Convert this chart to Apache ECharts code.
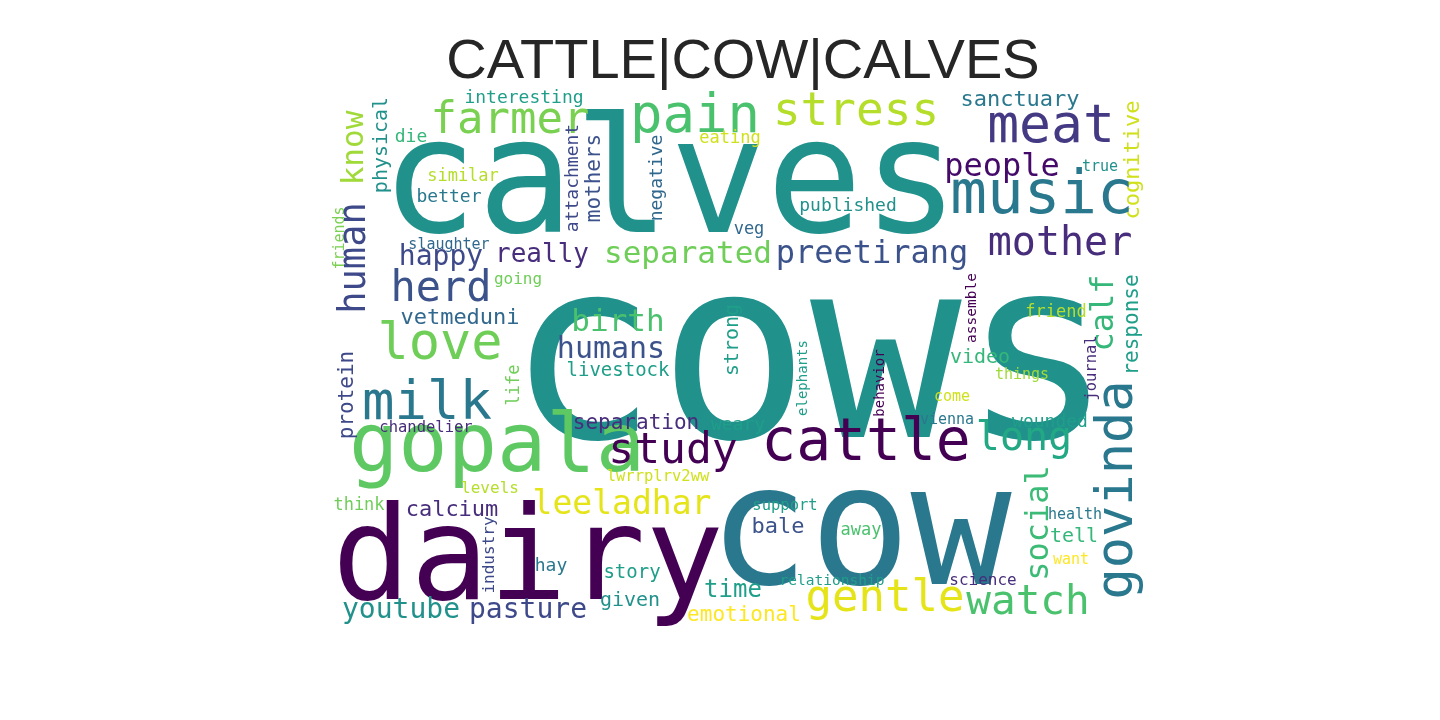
<!DOCTYPE html>
<html>
<head>
<meta charset="utf-8">
<script src="https://cdn.jsdelivr.net/npm/echarts@6/dist/echarts.min.js"></script>
<style>html,body{margin:0;padding:0;background:#fff}#chart{width:1440px;height:720px}</style>
</head>
<body>
<div id="chart"></div>
<script>
// word cloud entries: word, centre x, centre y, font size, rotation, colour
var words = ['calves','cows','dairy','cow','gopala','cattle','study','leeladhar','calcium','think','levels','lwrrplrv2ww',
  'youtube','pasture','hay','story','given','emotional','time','industry','separation','weary','chandelier','protein',
  'life','milk','livestock','humans','strong','birth','vetmeduni','love','herd','happy','really','slaughter','going',
  'friends','human','know','physical','interesting','farmer','die','similar','better','attachment','mothers','negative',
  'pain','eating','veg','stress','published','sanctuary','meat','people','true','cognitive','music','mother','preetirang',
  'separated','calf','response','assemble','friend','journal','govinda','video','things','come','elephants','behavior',
  'vienna','wounded','long','social','tell','health','want','support','bale','away','relationship','science','gentle','watch'];
var wordX = [670,810,528,860,497,866,673,622,452,359,490,658,
  401,528,551,632,630,744,733,490,636,738,426,348,
  515,427,618,611,733,618,460,440,441,441,542,449,518,
  340,355,355,382,524,510,411,463,449,573,595,657,
  695,730,749,856,848,1020,1051,1002,1100,1133,1042,1060,872,
  688,1105,1133,972,1056,1092,1118,980,1022,952,803,880,
  947,1050,1024,1040,1074,1075,1071,785,778,861,832,983,885,1028];
var wordY = [190,372,565,540,450,445,452,505,510,506,489,477,
  611,611,566,573,601,616,591,555,424,425,428,395,
  385,405,371,350,340,323,318,345,290,258,255,245,280,
  238,258,148,145,98,122,137,177,197,178,178,178,
  118,139,230,113,206,100,128,168,167,160,197,245,255,
  255,313,325,308,313,368,490,358,375,397,378,383,
  420,422,440,523,537,515,560,506,527,531,581,581,600,603];
var wordSize = [160,252,130,168,82,58,43,33,22,17,16,15.5,
  28,28,18,19,20,21,24,16,21,18,15.5,21,
  17,54,19,30,20,31,22,52,42,28,26,15,16,
  15,37,31,20,18,44,18,17,18,18,21,18,
  54,17,17,46,18,22,53,32,15,22,61,40,32,
  31,32,21,14.5,17,15.5,52,20,15,15,14,14,
  15,18,40,32,20,15,15,15.5,22,17,14.5,16,44,41];
var wordRot = [0,0,0,0,0,0,0,0,0,0,0,0,
  0,0,0,0,0,0,0,90,0,0,0,90,
  90,0,0,0,90,0,0,0,0,0,0,0,0,
  90,90,90,90,0,0,0,0,0,90,90,90,
  0,0,0,0,0,0,0,0,0,90,0,0,0,
  0,90,90,90,0,90,90,0,0,0,90,90,
  0,0,0,90,0,0,0,0,0,0,0,0,0,0];
var wordColor = ['#21918c','#21918c','#440154','#2a788e','#5ec962','#440154','#440154','#e5e419','#472d7b','#6ece58','#b5de2b','#d0e11c',
  '#21918c','#3e4989','#2a788e','#1f9e89','#21918c','#fde725','#1f9e89','#3e4989','#472d7b','#1f9e89','#472d7b','#3e4989',
  '#6ece58','#2a788e','#1f9e89','#3b528b','#1f9e89','#4ac16d','#31688e','#6ece58','#3b528b','#3e4989','#472d7b','#31688e','#6ece58',
  '#7ad151','#3e4989','#a0da39','#21918c','#1f9e89','#7ad151','#35b779','#b5de2b','#2a788e','#3e4989','#3b528b','#31688e',
  '#4ac16d','#d0e11c','#31688e','#b5de2b','#21918c','#2a788e','#443983','#450a69','#21918c','#d0e11c','#2a788e','#472d7b','#3b528b',
  '#6ece58','#35b779','#1f9e89','#440154','#b5de2b','#472d7b','#2a788e','#35b779','#a0da39','#d0e11c','#1f9e89','#440154',
  '#2a788e','#1f9e89','#22a884','#3bbb75','#35b779','#2a788e','#fde725','#1f9e89','#3b528b','#4ac16d','#1f9e89','#472d7b','#e5e419','#4ac16d'];

var chart = echarts.init(document.getElementById('chart'));
var points = [];
for (var i = 0; i < words.length; i++) {
  points.push({
    value: [wordX[i], wordY[i]],
    label: {
      show: true,
      formatter: words[i],
      fontSize: wordSize[i],
      rotate: wordRot[i],
      color: wordColor[i],
      opacity: 1
    }
  });
}
chart.setOption({
  animation: false,
  backgroundColor: '#fff',
  title: {
    text: 'CATTLE|COW|CALVES',
    left: 738, top: 30, textAlign: 'center',
    textStyle: {fontFamily: 'Liberation Sans', fontSize: 56, fontWeight: 'normal', color: '#262626'}
  },
  grid: {left: 0, right: 0, top: 0, bottom: 0},
  xAxis: {type: 'value', min: 0, max: 1440, show: false},
  yAxis: {type: 'value', min: 0, max: 720, inverse: true, show: false},
  series: [{
    type: 'scatter',
    symbolSize: 0,
    silent: true,
    itemStyle: {opacity: 1},
    label: {position: 'inside', align: 'center', verticalAlign: 'middle', fontFamily: 'DejaVu Sans Mono', opacity: 1},
    data: points
  }]
});
</script>
</body>
</html>
